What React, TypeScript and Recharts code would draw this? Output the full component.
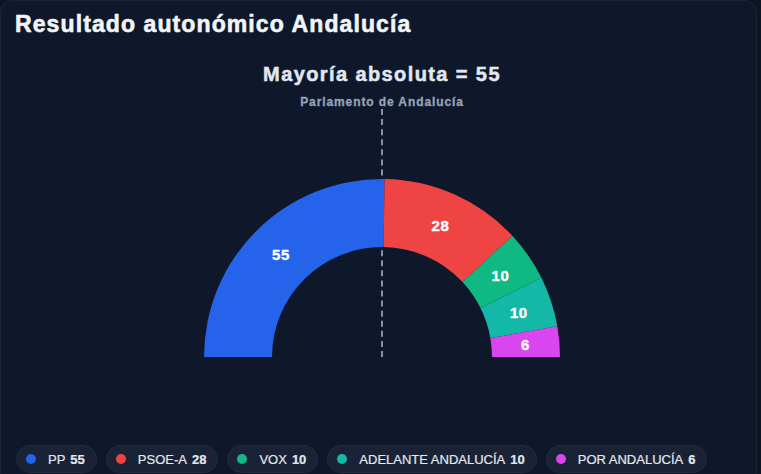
import React from "react";
import { Cell, Pie, PieChart } from "recharts";

const parties = ["PP", "PSOE-A", "VOX", "ADELANTE ANDALUCÍA", "POR ANDALUCÍA"];
const seats = [55, 28, 10, 10, 6];
const colors = ["#2563eb", "#ef4444", "#10b981", "#14b8a6", "#d946ef"];
const majority = 55;

const W = 761;
const H = 474;
const CX = 381;
const CY = 356;
const FONT = '"Liberation Sans", Arial, sans-serif';

const rows = parties.map((name, i) => ({ name, value: seats[i] }));

const RAD = Math.PI / 180;

function SeatLabel(props: any) {
  const { cx, cy, midAngle, innerRadius, outerRadius, value } = props;
  const r = (innerRadius + outerRadius) / 2;
  const x = cx + r * Math.cos(-midAngle * RAD);
  const y = cy + r * Math.sin(-midAngle * RAD);
  return (
    <text
      x={x}
      y={y}
      fill="#ffffff"
      fontSize={15}
      fontWeight={700}
      fontFamily={FONT}
      textAnchor="middle"
      dominantBaseline="central"
      stroke="#ffffff"
      strokeWidth={0.4}
      letterSpacing={0.5}
    >
      {value}
    </text>
  );
}

export default function App() {
  return (
    <div style={{ position: "fixed", left: 0, top: 0, width: W, height: H, background: "#0c1322" }}>
      <div
        style={{
          position: "absolute",
          left: 0,
          top: 0,
          width: W - 4,
          height: H + 10,
          boxSizing: "border-box",
          background: "#0f172a",
          border: "1px solid #1c2538",
          borderRadius: 12,
          overflow: "hidden",
          fontFamily: FONT,
        }}
      >
        <div
          style={{
            position: "absolute",
            left: 14,
            top: 10,
            fontSize: 23,
            fontWeight: 700,
            color: "#f1f5f9",
            letterSpacing: 1.1,
            WebkitTextStroke: "0.6px #f1f5f9",
          }}
        >
          Resultado autonómico Andalucía
        </div>
        <div
          style={{
            position: "absolute",
            left: 0,
            width: 2 * CX,
            top: 62,
            textAlign: "center",
            fontSize: 20,
            fontWeight: 700,
            color: "#e2e8f0",
            letterSpacing: 1.4,
            WebkitTextStroke: "0.5px #e2e8f0",
          }}
        >
          Mayoría absoluta = {majority}
        </div>
        <div
          style={{
            position: "absolute",
            left: 0,
            width: 2 * CX,
            top: 94,
            textAlign: "center",
            fontSize: 12,
            fontWeight: 700,
            color: "#94a3b8",
            letterSpacing: 0.9,
            WebkitTextStroke: "0.3px #94a3b8",
          }}
        >
          Parlamento de Andalucía
        </div>
        {/* majority marker, sits behind the ring */}
        <div
          style={{
            position: "absolute",
            left: CX - 1,
            top: 108,
            height: CY - 108,
            borderLeft: "2px dashed #8391a7",
          }}
        />
        <div style={{ position: "absolute", left: 0, top: 0 }}>
          <PieChart width={W} height={H} margin={{ top: 0, right: 0, bottom: 0, left: 0 }}>
            <Pie
              data={rows}
              dataKey="value"
              nameKey="name"
              cx={CX}
              cy={CY}
              startAngle={180}
              endAngle={0}
              innerRadius={110}
              outerRadius={178}
              stroke="none"
              label={SeatLabel}
              labelLine={false}
              isAnimationActive={false}
            >
              {rows.map((_, i) => (
                <Cell key={i} fill={colors[i]} />
              ))}
            </Pie>
          </PieChart>
        </div>
        <div style={{ position: "absolute", left: 15, top: 444, display: "flex", gap: 9 }}>
          {rows.map((r, i) => (
            <div
              key={r.name}
              style={{
                display: "flex",
                alignItems: "center",
                boxSizing: "border-box",
                height: 28,
                padding: "0 11px 0 9px",
                borderRadius: 14,
                background: "#1a2335",
                border: "1px solid #222c3f",
                color: "#e2e8f0",
                fontSize: 13,
                whiteSpace: "nowrap",
                WebkitTextStroke: "0.2px #e2e8f0",
              }}
            >
              <span style={{ width: 10, height: 10, borderRadius: 5, background: colors[i], marginRight: 12 }} />
              <span>{r.name}</span>
              <span style={{ fontWeight: 700, marginLeft: 5 }}>{r.value}</span>
            </div>
          ))}
        </div>
      </div>
    </div>
  );
}
